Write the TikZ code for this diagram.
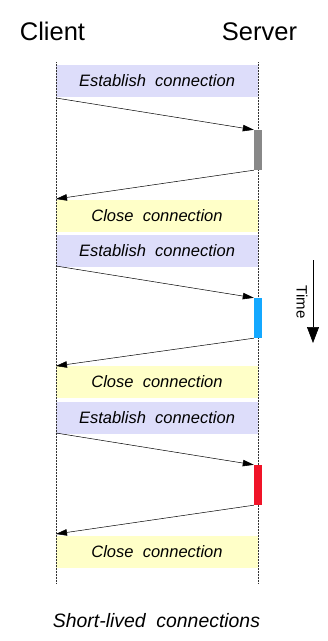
\documentclass[tikz,border=0pt]{standalone}
\usepackage{fontspec}
\setmainfont{Liberation Sans}
\usetikzlibrary{arrows.meta}
\definecolor{estfill}{RGB}{221,221,250}
\definecolor{closefill}{RGB}{255,255,200}
\definecolor{bargray}{RGB}{136,136,136}
\definecolor{barblue}{RGB}{20,168,255}
\definecolor{barred}{RGB}{240,20,40}
\tikzset{
  lifeline/.style={draw=black!80, densely dotted, line width=0.5pt},
  estbox/.style={fill=estfill, minimum width=202pt, minimum height=32pt, inner sep=0pt,
    font=\fontsize{16.5}{19}\selectfont\itshape},
  closebox/.style={fill=closefill, minimum width=202pt, minimum height=32pt, inner sep=0pt,
    font=\fontsize{16.5}{19}\selectfont\itshape},
  actbar/.style={minimum width=8pt, minimum height=40pt, inner sep=0pt},
  msg/.style={draw=black, line width=0.5pt, -{Triangle[length=11pt,width=6.5pt]}},
  title/.style={font=\fontsize{25.5}{30}\selectfont, anchor=base},
}
\begin{document}
\begin{tikzpicture}[x=1pt,y=-1pt]
\useasboundingbox (0,0) rectangle (328,641);
% headers
\node[title] (client) at (52.5,40) {Client};
\node[title] (server) at (259.5,40) {Server};
% boxes
\node[estbox] (e1) at (157,81) {Establish\ \ connection};
\node[closebox] (k1) at (157,215.5) {Close\ \ connection};
\node[estbox] (e2) at (157,251) {Establish\ \ connection};
\node[closebox] (k2) at (157,382) {Close\ \ connection};
\node[estbox] (e3) at (157,418) {Establish\ \ connection};
\node[closebox] (k3) at (157,552) {Close\ \ connection};
% lifelines
\coordinate (ctop) at (56,62);
\coordinate (cbot) at (56,583);
\coordinate (stop) at (258,62);
\coordinate (sbot) at (258,583);
\draw[lifeline] (ctop) -- (cbot);
\draw[lifeline] (stop) -- (sbot);
% activation bars
\node[actbar, fill=bargray] (b1) at (258,150) {};
\node[actbar, fill=barblue] (b2) at (258,318) {};
\node[actbar, fill=barred] (b3) at (258,485) {};
% message points on client lifeline
\coordinate (s1) at (56,98);
\coordinate (r1) at (56,199);
\coordinate (s2) at (56,266);
\coordinate (r2) at (56,366);
\coordinate (s3) at (56,433);
\coordinate (r3) at (56,534);
\draw[msg] (s1) -- (b1.north west);
\draw[msg] (b1.south west) -- (r1);
\draw[msg] (s2) -- (b2.north west);
\draw[msg] (b2.south west) -- (r2);
\draw[msg] (s3) -- (b3.north west);
\draw[msg] (b3.south west) -- (r3);
% time arrow
\coordinate (t0) at (313,260);
\coordinate (t1) at (313,343);
\draw[line width=0.6pt, -{Triangle[length=16pt,width=12pt]}] (t0) -- (t1);
\node[rotate=-90, font=\fontsize{15}{18}\selectfont] (time) at (302,302) {Time};
% caption
\node[font=\fontsize{19.4}{23}\selectfont\itshape, anchor=base] (cap) at (156.5,627) {Short-lived\ \ connections};
\end{tikzpicture}
\end{document}
